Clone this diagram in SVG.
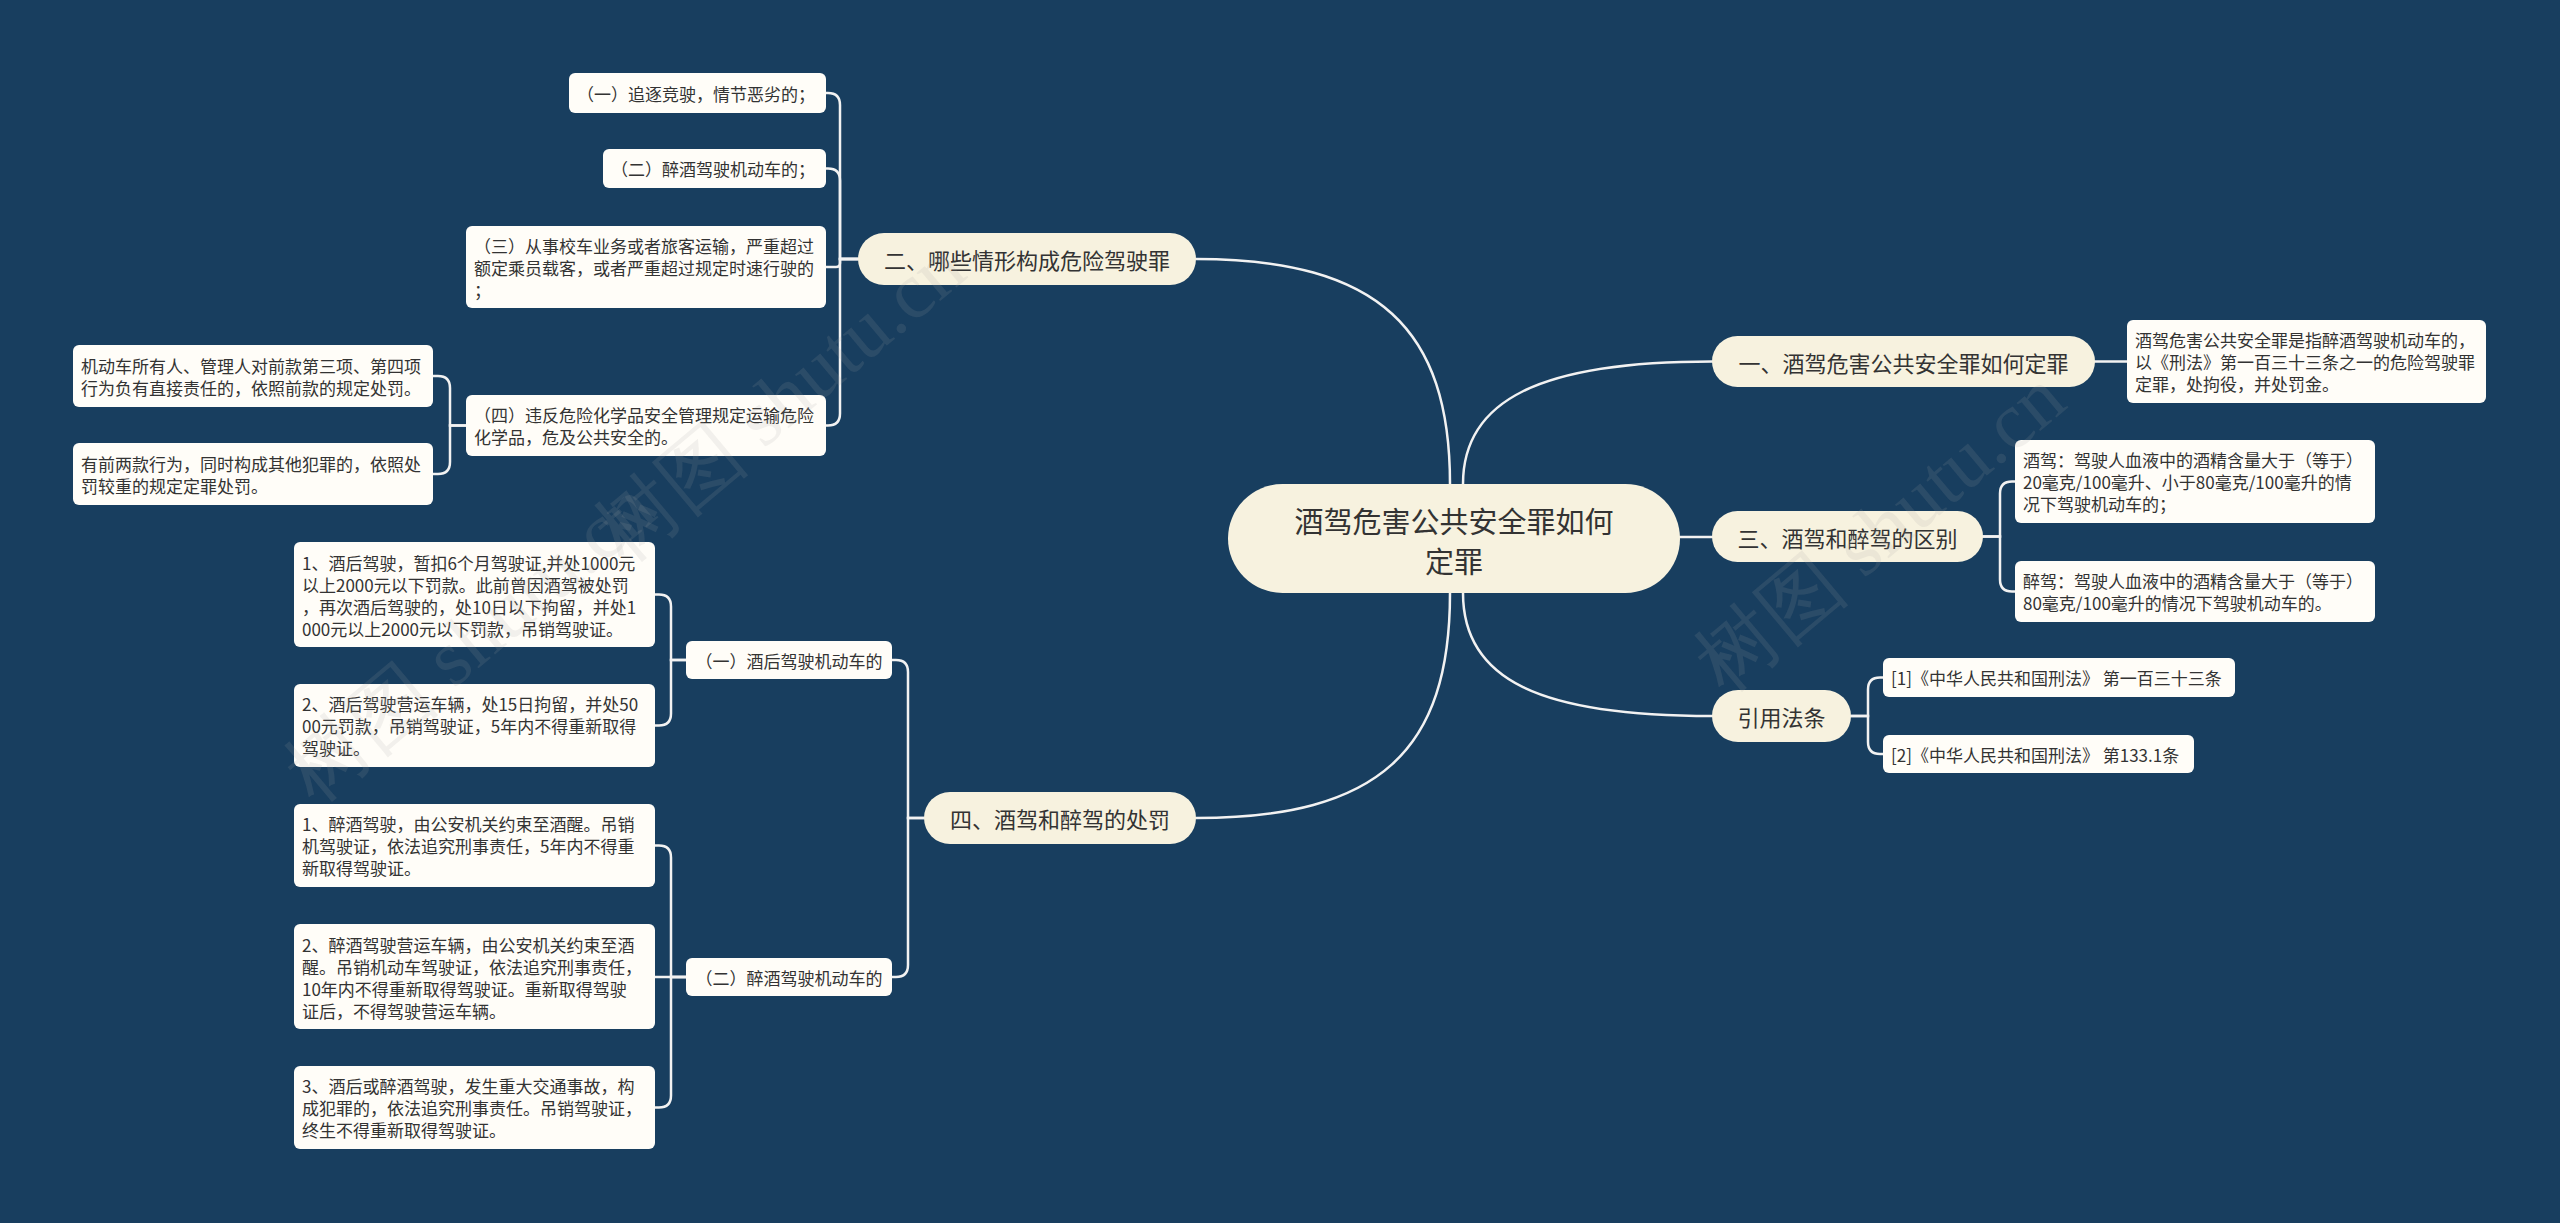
<svg xmlns="http://www.w3.org/2000/svg" width="2560" height="1223" viewBox="0 0 2560 1223">
<style>
text{font-family:"Noto Sans CJK SC","Noto Sans",sans-serif;fill:#333;dominant-baseline:central}
.leaf{fill:#fffdf8}
.branch{fill:#f7f2df}
.t17{font-size:17px}
.t22{font-size:22px;text-anchor:middle}
.t29{font-size:29px;text-anchor:middle}
.mid{text-anchor:middle}
.conn path{fill:none;stroke:#f2f2f2;stroke-width:2.5;stroke-linecap:round}
.wm text{font-size:80px;fill:#a0a0a0;fill-opacity:0.14;font-family:"Liberation Serif",serif}
</style>
<rect x="0" y="0" width="2560" height="1223" fill="#183e5f"/>

<g class="conn" id="connectors">
<path d="M1450,484 C1450,330 1380,259 1196,259"/>
<path d="M1463,484 C1463,400 1540,361.5 1712,361.5"/>
<path d="M1680,537 L1712,537"/>
<path d="M1463,593 C1463,680 1540,716 1712,716"/>
<path d="M1450,593 C1450,750 1380,818 1196,818"/>
<path d="M858,259 H840 V105 Q840,93 828,93 H826"/>
<path d="M858,259 H840 V180.5 Q840,168.5 828,168.5 H826"/>
<path d="M858,259 H840 V263 Q840,267 836,267 H826"/>
<path d="M858,259 H840 V413.5 Q840,425.5 828,425.5 H826"/>
<path d="M466,425.5 H450 V388 Q450,376 438,376 H433"/>
<path d="M466,425.5 H450 V462 Q450,474 438,474 H433"/>
<path d="M924,818 H908 V672 Q908,660 896,660 H892"/>
<path d="M924,818 H908 V965 Q908,977 896,977 H892"/>
<path d="M686,660 H671 V606.5 Q671,594.5 659,594.5 H655"/>
<path d="M686,660 H671 V713.5 Q671,725.5 659,725.5 H655"/>
<path d="M686,977 H671 V857.5 Q671,845.5 659,845.5 H655"/>
<path d="M686,977 H655"/>
<path d="M686,977 H671 V1095.5 Q671,1107.5 659,1107.5 H655"/>
<path d="M2095,361.5 H2127"/>
<path d="M1983,536.5 H2000 V493.5 Q2000,481.5 2012,481.5 H2015"/>
<path d="M1983,536.5 H2000 V579.5 Q2000,591.5 2012,591.5 H2015"/>
<path d="M1851,716 H1868 V689.5 Q1868,677.5 1880,677.5 H1883"/>
<path d="M1851,716 H1868 V742 Q1868,754 1880,754 H1883"/>
</g>

<g id="root">
<rect class="branch" x="1228" y="484" width="452" height="109" rx="54.5"/>
<text class="t29" x="1454" y="520">酒驾危害公共安全罪如何</text>
<text class="t29" x="1454" y="560">定罪</text>
</g>

<g id="b2">
<rect class="branch" x="858" y="233" width="338" height="52" rx="26"/>
<text class="t22" x="1027" y="259">二、哪些情形构成危险驾驶罪</text>
</g>
<g id="b1">
<rect class="branch" x="1712" y="336" width="383" height="51" rx="25.5"/>
<text class="t22" x="1903.5" y="361.5">一、酒驾危害公共安全罪如何定罪</text>
</g>
<g id="b3">
<rect class="branch" x="1712" y="511" width="271" height="51" rx="25.5"/>
<text class="t22" x="1847.5" y="536.5">三、酒驾和醉驾的区别</text>
</g>
<g id="bref">
<rect class="branch" x="1712" y="690" width="139" height="52" rx="26"/>
<text class="t22" x="1781.5" y="716">引用法条</text>
</g>
<g id="b4">
<rect class="branch" x="924" y="792" width="272" height="52" rx="26"/>
<text class="t22" x="1060" y="818">四、酒驾和醉驾的处罚</text>
</g>

<g id="l21">
<rect class="leaf" x="569" y="73" width="257" height="40" rx="6"/>
<text class="t17" x="577" y="93">（一）追逐竞驶，情节恶劣的；</text>
</g>
<g id="l22">
<rect class="leaf" x="603" y="149" width="223" height="39" rx="6"/>
<text class="t17" x="611" y="168.5">（二）醉酒驾驶机动车的；</text>
</g>
<g id="l23">
<rect class="leaf" x="466" y="226" width="360" height="82" rx="6"/>
<text class="t17" x="474" y="245">（三）从事校车业务或者旅客运输，严重超过</text>
<text class="t17" x="474" y="267">额定乘员载客，或者严重超过规定时速行驶的</text>
<text class="t17" x="474" y="289">；</text>
</g>
<g id="l24">
<rect class="leaf" x="466" y="395" width="360" height="61" rx="6"/>
<text class="t17" x="474" y="414.5">（四）违反危险化学品安全管理规定运输危险</text>
<text class="t17" x="474" y="436.5">化学品，危及公共安全的。</text>
</g>
<g id="l241">
<rect class="leaf" x="73" y="345" width="360" height="62" rx="6"/>
<text class="t17" x="81" y="365">机动车所有人、管理人对前款第三项、第四项</text>
<text class="t17" x="81" y="387">行为负有直接责任的，依照前款的规定处罚。</text>
</g>
<g id="l242">
<rect class="leaf" x="73" y="443" width="360" height="62" rx="6"/>
<text class="t17" x="81" y="463">有前两款行为，同时构成其他犯罪的，依照处</text>
<text class="t17" x="81" y="485">罚较重的规定定罪处罚。</text>
</g>

<g id="r1">
<rect class="leaf" x="2127" y="320" width="359" height="83" rx="6"/>
<text class="t17" x="2135" y="339.5">酒驾危害公共安全罪是指醉酒驾驶机动车的，</text>
<text class="t17" x="2135" y="361.5">以《刑法》第一百三十三条之一的危险驾驶罪</text>
<text class="t17" x="2135" y="383.5">定罪，处拘役，并处罚金。</text>
</g>
<g id="r31">
<rect class="leaf" x="2015" y="440" width="360" height="83" rx="6"/>
<text class="t17" x="2023" y="459.5">酒驾：驾驶人血液中的酒精含量大于（等于）</text>
<text class="t17" x="2023" y="481.5">20毫克/100毫升、小于80毫克/100毫升的情</text>
<text class="t17" x="2023" y="503.5">况下驾驶机动车的；</text>
</g>
<g id="r32">
<rect class="leaf" x="2015" y="561" width="360" height="61" rx="6"/>
<text class="t17" x="2023" y="580.5">醉驾：驾驶人血液中的酒精含量大于（等于）</text>
<text class="t17" x="2023" y="602.5">80毫克/100毫升的情况下驾驶机动车的。</text>
</g>
<g id="rr1">
<rect class="leaf" x="1883" y="658" width="352" height="39" rx="6"/>
<text class="t17" x="1891" y="677.5">[1]《中华人民共和国刑法》 第一百三十三条</text>
</g>
<g id="rr2">
<rect class="leaf" x="1883" y="735" width="311" height="38" rx="6"/>
<text class="t17" x="1891" y="754">[2]《中华人民共和国刑法》 第133.1条</text>
</g>

<g id="s1">
<rect class="leaf" x="686" y="641" width="206" height="38" rx="6"/>
<text class="t17 mid" x="789" y="660">（一）酒后驾驶机动车的</text>
</g>
<g id="s2">
<rect class="leaf" x="686" y="958" width="206" height="38" rx="6"/>
<text class="t17 mid" x="789" y="977">（二）醉酒驾驶机动车的</text>
</g>

<g id="p11">
<rect class="leaf" x="294" y="542" width="361" height="105" rx="6"/>
<text class="t17" x="302" y="562.5">1、酒后驾驶，暂扣6个月驾驶证,并处1000元</text>
<text class="t17" x="302" y="584.5">以上2000元以下罚款。此前曾因酒驾被处罚</text>
<text class="t17" x="302" y="606.5">，再次酒后驾驶的，处10日以下拘留，并处1</text>
<text class="t17" x="302" y="628.5">000元以上2000元以下罚款，吊销驾驶证。</text>
</g>
<g id="p12">
<rect class="leaf" x="294" y="684" width="361" height="83" rx="6"/>
<text class="t17" x="302" y="703.5">2、酒后驾驶营运车辆，处15日拘留，并处50</text>
<text class="t17" x="302" y="725.5">00元罚款，吊销驾驶证，5年内不得重新取得</text>
<text class="t17" x="302" y="747.5">驾驶证。</text>
</g>
<g id="p21">
<rect class="leaf" x="294" y="804" width="361" height="83" rx="6"/>
<text class="t17" x="302" y="823.5">1、醉酒驾驶，由公安机关约束至酒醒。吊销</text>
<text class="t17" x="302" y="845.5">机驾驶证，依法追究刑事责任，5年内不得重</text>
<text class="t17" x="302" y="867.5">新取得驾驶证。</text>
</g>
<g id="p22">
<rect class="leaf" x="294" y="924" width="361" height="105" rx="6"/>
<text class="t17" x="302" y="944.5">2、醉酒驾驶营运车辆，由公安机关约束至酒</text>
<text class="t17" x="302" y="966.5">醒。吊销机动车驾驶证，依法追究刑事责任，</text>
<text class="t17" x="302" y="988.5">10年内不得重新取得驾驶证。重新取得驾驶</text>
<text class="t17" x="302" y="1010.5">证后，不得驾驶营运车辆。</text>
</g>
<g id="p23">
<rect class="leaf" x="294" y="1066" width="361" height="83" rx="6"/>
<text class="t17" x="302" y="1085.5">3、酒后或醉酒驾驶，发生重大交通事故，构</text>
<text class="t17" x="302" y="1107.5">成犯罪的，依法追究刑事责任。吊销驾驶证，</text>
<text class="t17" x="302" y="1129.5">终生不得重新取得驾驶证。</text>
</g>

<g class="wm" id="watermark">
<text x="470" y="640" text-anchor="middle" transform="rotate(-40 470 640)">树图 shutu.cn</text>
<text x="780" y="400" text-anchor="middle" transform="rotate(-40 780 400)">树图 shutu.cn</text>
<text x="1880" y="530" text-anchor="middle" transform="rotate(-40 1880 530)">树图 shutu.cn</text>
</g>
</svg>
